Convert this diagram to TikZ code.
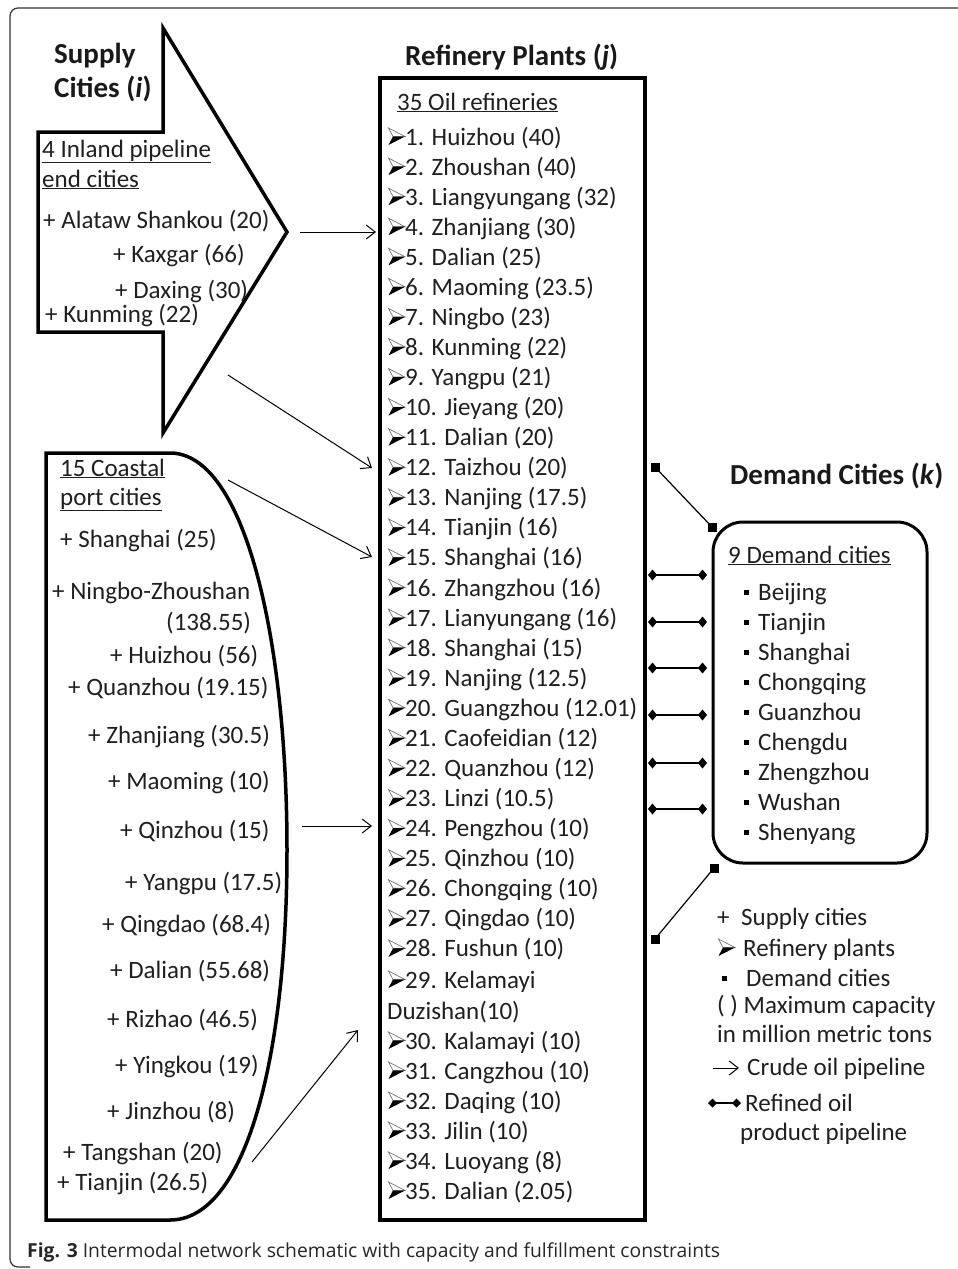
\documentclass[tikz,border=0pt]{standalone}
\usepackage{fontspec}
\setmainfont{Carlito}
\newfontfamily\capf{Open Sans}
\usetikzlibrary{arrows.meta}
\tikzset{
 txt/.style={inner sep=0pt, anchor=base west, font=\fontsize{25}{30}\selectfont, text=black!88},
 head/.style={inner sep=0pt, anchor=base west, font=\bfseries\fontsize{29}{34}\selectfont, text=black!90},
 shapeline/.style={line width=3.5pt, line join=miter},
 crude/.style={line width=1pt, -{Straight Barb[length=9pt,width=14pt,line width=1pt]}},
 refined/.style={line width=1.6pt, {Diamond[length=9pt,width=11pt]}-{Diamond[length=9pt,width=11pt]}},
 sqline/.style={line width=1.2pt},
 sqm/.style={fill=black, minimum size=9pt, inner sep=0pt},
 dot/.style={fill=black, minimum size=5pt, inner sep=0pt},
 rbul/.pic={
   \draw[black!55, line width=0.7pt, line join=miter] (0.5,-17) -- (17,-8.5) -- (5,-8.5) -- cycle;
   \fill[black] (5,-8.5) -- (17,-8.5) -- (0.5,0) -- cycle;
 },
}
\begin{document}
\begin{tikzpicture}[x=1pt, y=-1pt]
\useasboundingbox (0,0) rectangle (958,1269);
% outer frame
\draw[line width=1.2pt, black!80, rounded corners=8pt] (960,8) -- (10,8) -- (10,1267) -- (30,1267);

% supply arrow
\draw[shapeline] (163,28) -- (287,232) -- (163,433) -- (163,332) -- (38,332) -- (38,132) -- (163,132) -- cycle;
\node[head] (sh1) at (54,63) {Supply};
\node[head] (sh2) at (54,97) {Cities (\textit{i})};
\node[txt] (s0) at (42,157) {\underline{4 Inland pipeline}};
\node[txt] (s00) at (42,187) {\underline{end cities}};
\node[txt] (s1) at (43,228) {+ Alataw Shankou (20)};
\node[txt] (s2) at (113,262) {+ Kaxgar (66)};
\node[txt] (s3) at (115,298) {+ Daxing (30)};
\node[txt] (s4) at (45,322) {+ Kunming (22)};

% coastal shape
\draw[shapeline] (46,453) -- (170,453) .. controls (245,453) and (287,640) .. (287,850)
  .. controls (287,1060) and (245,1220) .. (170,1220) -- (46,1220) -- cycle;
\node[txt] (c0) at (60,476) {\underline{15 Coastal}};
\node[txt] (c00) at (60,505) {\underline{port cities}};
\node[txt] (c1) at (60,547) {+ Shanghai (25)};
\node[txt] (c2) at (52,599) {+ Ningbo-Zhoushan};
\node[txt] (c2b) at (166,630) {(138.55)};
\node[txt] (c3) at (110,663) {+ Huizhou (56)};
\node[txt] (c4) at (68,695) {+ Quanzhou (19.15)};
\node[txt] (c5) at (88,743) {+ Zhanjiang (30.5)};
\node[txt] (c6) at (108,789) {+ Maoming (10)};
\node[txt] (c7) at (120,838) {+ Qinzhou (15)};
\node[txt] (c8) at (125,890) {+ Yangpu (17.5)};
\node[txt] (c9) at (102,932) {+ Qingdao (68.4)};
\node[txt] (c10) at (110,978) {+ Dalian (55.68)};
\node[txt] (c11) at (107,1027) {+ Rizhao (46.5)};
\node[txt] (c12) at (115,1073) {+ Yingkou (19)};
\node[txt] (c13) at (107,1119) {+ Jinzhou (8)};
\node[txt] (c14) at (63,1160) {+ Tangshan (20)};
\node[txt] (c15) at (57,1190) {+ Tianjin (26.5)};

% refinery box
\draw[line width=4.5pt] (380,78) rectangle (645,1220);
\node[head] (rh) at (405,65) {Refinery Plants (\textit{j})};
\node[txt] (r0) at (397,110) {\underline{35 Oil refineries}};
\foreach \t [count=\i] in {Huizhou (40), Zhoushan (40), Liangyungang (32), Zhanjiang (30), Dalian (25), Maoming (23.5), Ningbo (23), Kunming (22), Yangpu (21), Jieyang (20), Dalian (20), Taizhou (20), Nanjing (17.5), Tianjin (16), Shanghai (16), Zhangzhou (16), Lianyungang (16), Shanghai (15), Nanjing (12.5), Guangzhou (12.01), Caofeidian (12), Quanzhou (12), Linzi (10.5), Pengzhou (10), Qinzhou (10), Chongqing (10), Qingdao (10), Fushun (10)} {
  \pic at (388,{145+(\i-1)*30.07}) {rbul};
  \node[txt] (r\i) at (405,{145+(\i-1)*30.07}) {\i. \t};
}
\pic at (388,988) {rbul};
\node[txt] (r29) at (405,988) {29. Kelamayi};
\node[txt] (r29b) at (387,1019) {Duzishan(10)};
\foreach \t [count=\i from 30] in {Kalamayi (10), Cangzhou (10), Daqing (10), Jilin (10), Luoyang (8), Dalian (2.05)} {
  \pic at (388,{1049+(\i-30)*30}) {rbul};
  \node[txt] (r\i) at (405,{1049+(\i-30)*30}) {\i. \t};
}

% crude oil pipelines
\coordinate (a1s) at (300,232); \coordinate (a1e) at (376,232);
\coordinate (a2s) at (228,375); \coordinate (a2e) at (372,468);
\coordinate (a3s) at (228,480); \coordinate (a3e) at (372,557);
\coordinate (a4s) at (302,826); \coordinate (a4e) at (372,826);
\coordinate (a5s) at (252,1162); \coordinate (a5e) at (358,1030);
\foreach \k in {1,...,5} \draw[crude] (a\k s) -- (a\k e);

% demand box
\node[head] (dh) at (730,484) {Demand Cities (\textit{k})};
\draw[line width=3pt, rounded corners=30pt] (713,522) rectangle (927,863);
\node[txt] (d0) at (728,563) {\underline{9 Demand cities}};
\foreach \t [count=\i] in {Beijing, Tianjin, Shanghai, Chongqing, Guanzhou, Chengdu, Zhengzhou, Wushan, Shenyang} {
  \node[dot] (db\i) at (746,{600+(\i-1)*30-8}) {};
  \node[txt] (d\i) at (758,{600+(\i-1)*30}) {\t};
}

% refined oil pipelines
\foreach \y [count=\i] in {575,622,668,715,763,809} {
  \coordinate (p\i s) at (648,\y); \coordinate (p\i e) at (707,\y);
  \draw[refined] (p\i s) -- (p\i e);
}
\node[sqm] (q1s) at (655,467) {};
\node[sqm] (q1e) at (712,527) {};
\node[sqm] (q2s) at (714,868) {};
\node[sqm] (q2e) at (655,939) {};
\draw[sqline] (q1s.center) -- (q1e.center);
\draw[sqline] (q2s.center) -- (q2e.center);

% legend
\node[txt] (l1a) at (717,925) {+};
\node[txt] (l1) at (741,925) {Supply cities};
\pic at (718,956) {rbul};
\node[txt] (l2) at (743,956) {Refinery plants};
\node[dot] (l3a) at (724,978) {};
\node[txt] (l3) at (746,986) {Demand cities};
\node[txt] (l4) at (717,1013) {( ) Maximum capacity};
\node[txt] (l5) at (717,1042) {in million metric tons};
\coordinate (lcs) at (713,1068); \coordinate (lce) at (739,1068);
\draw[crude, line width=0.8pt] (lcs) -- (lce);
\node[txt] (l6) at (747,1075) {Crude oil pipeline};
\coordinate (lrs) at (708,1103); \coordinate (lre) at (741,1103);
\draw[line width=1.4pt, {Diamond[length=9pt,width=9pt]}-{Diamond[length=9pt,width=9pt]}] (lrs) -- (lre);
\node[txt] (l7) at (745,1111) {Refined oil};
\node[txt] (l8) at (740,1140) {product pipeline};

% caption
\node[inner sep=0pt, anchor=base west, text=black!85, font=\capf\fontsize{19.3}{22}\selectfont] (cap) at (27,1257) {\textbf{Fig. 3} Intermodal network schematic with capacity and fulfillment constraints};
\end{tikzpicture}
\end{document}
